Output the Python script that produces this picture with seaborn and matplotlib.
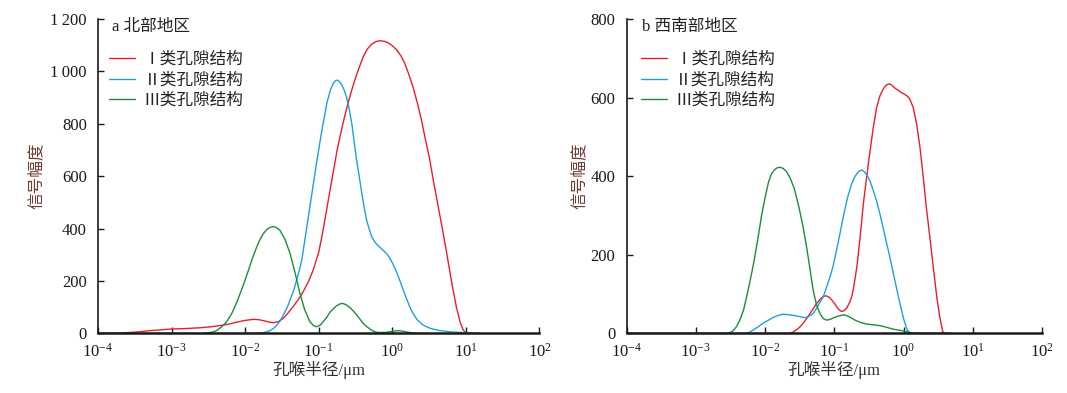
import numpy as np
import pandas as pd
import matplotlib
matplotlib.use("Agg")
import matplotlib.pyplot as plt
import seaborn as sns
from matplotlib.ticker import FixedLocator, FuncFormatter, NullLocator

# ---------------- data (log10 of pore-throat radius in µm, signal amplitude) ----------------
series_names = ["Ⅰ类孔隙结构", "Ⅱ类孔隙结构", "Ⅲ类孔隙结构"]
series_colors = ["#E5202B", "#1F9FE3", "#1B8C3C"]

# panel a: 北部地区
a_I_logr = [-4.0, -3.7, -3.5, -3.29, -3.0, -2.8, -2.61, -2.45, -2.30, -2.2, -2.12, -2.0, -1.89, -1.82,
            -1.75, -1.68, -1.62, -1.55, -1.48, -1.42, -1.35, -1.28, -1.21, -1.14, -1.075, -1.0, -0.95,
            -0.85, -0.75, -0.68, -0.62, -0.55, -0.5, -0.45, -0.395, -0.34, -0.28, -0.22, -0.17, -0.11,
            -0.05, 0.0, 0.06, 0.12, 0.17, 0.22, 0.28, 0.34, 0.40, 0.45, 0.51, 0.56, 0.62, 0.68, 0.74,
            0.80, 0.87, 0.92, 0.96, 1.0, 1.05, 1.15]
a_I_amp = [0, 2, 5, 11, 17, 19, 22, 26, 32, 37, 43, 50, 54, 53,
           49, 44, 41, 45, 58, 77, 102, 128, 160, 198, 242, 310, 380,
           540, 700, 790, 860, 930, 975, 1015, 1056, 1085, 1104, 1114, 1117, 1115,
           1108, 1098, 1082, 1058, 1030, 992, 942, 880, 810, 740, 662, 580, 490, 400, 306,
           205, 102, 45, 15, 2, 0, 0]

a_II_logr = [-4.0, -2.0, -1.85, -1.75, -1.66, -1.61, -1.57, -1.52, -1.48, -1.43, -1.39, -1.34, -1.30,
             -1.26, -1.23, -1.165, -1.10, -1.03, -0.96, -0.89, -0.84, -0.80, -0.77, -0.75, -0.72,
             -0.69, -0.655, -0.62, -0.585, -0.55, -0.52, -0.485, -0.45, -0.42, -0.385, -0.35, -0.31,
             -0.28, -0.245, -0.21, -0.15, -0.08, -0.04, 0.0, 0.05, 0.10, 0.15, 0.2, 0.24, 0.28, 0.34,
             0.42, 0.52, 0.65, 0.8, 1.0, 1.1, 1.2]
a_II_amp = [0, 0, 1, 3, 11, 20, 32, 50, 71, 98, 128, 165, 204,
            245, 280, 400, 520, 650, 770, 878, 930, 955, 965, 967, 962,
            950, 930, 900, 855, 800, 735, 662, 600, 545, 485, 433, 395,
            370, 352, 340, 324, 306, 290, 270, 240, 204, 165, 128, 100, 77, 52,
            32, 19, 11, 6, 3, 1, 0]

a_III_logr = [-4.0, -2.6, -2.52, -2.45, -2.39, -2.32, -2.25, -2.18, -2.12, -2.06, -2.0, -1.95, -1.91,
              -1.85, -1.80, -1.75, -1.70, -1.66, -1.62, -1.58, -1.53, -1.46, -1.39, -1.32, -1.255,
              -1.19, -1.12, -1.07, -1.03, -0.98, -0.94, -0.89, -0.85, -0.80, -0.76, -0.72, -0.675,
              -0.63, -0.58, -0.53, -0.485, -0.44, -0.40, -0.35, -0.30, -0.25, -0.20, -0.1, 0.0, 0.08,
              0.16, 0.25, 0.35, 0.5]
a_III_amp = [0, 0, 2, 5, 11, 25, 45, 77, 115, 158, 204, 245, 280,
             325, 358, 382, 398, 405, 408, 405, 395, 360, 306, 230, 153,
             90, 45, 30, 26, 32, 45, 62, 80, 95, 105, 112, 115,
             110, 100, 86, 71, 55, 40, 27, 16, 8, 4, 4, 8, 11,
             8, 3, 0, 0]

# panel b: 西南部地区
b_I_logr = [-4.0, -1.67, -1.60, -1.55, -1.50, -1.45, -1.40, -1.35, -1.30, -1.256, -1.20, -1.16, -1.12,
            -1.07, -1.016, -0.96, -0.93, -0.895, -0.86, -0.82, -0.775, -0.745, -0.72, -0.695, -0.67,
            -0.63, -0.58, -0.535, -0.49, -0.44, -0.39, -0.34, -0.29, -0.25, -0.21, -0.17, -0.13,
            -0.10, -0.04, 0.02, 0.06, 0.09, 0.14, 0.19, 0.24, 0.285, 0.33, 0.38, 0.43, 0.48, 0.52,
            0.565, 0.6, 0.7]
b_I_amp = [0, 0, 3, 9, 16, 26, 38, 51, 64, 76, 88, 94, 96,
           92, 81, 67, 60, 56, 58, 65, 80, 96, 118, 145, 175,
           240, 330, 395, 456, 520, 574, 605, 623, 632, 635, 632, 625,
           621, 614, 608, 603, 596, 575, 532, 470, 397, 320, 245, 168, 93, 45,
           5, 0, 0]

b_II_logr = [-4.0, -2.29, -2.23, -2.17, -2.10, -2.03, -1.95, -1.88, -1.81, -1.74, -1.67, -1.59, -1.50,
             -1.425, -1.36, -1.305, -1.256, -1.21, -1.16, -1.111, -1.06, -1.016, -0.94, -0.871, -0.81,
             -0.75, -0.70, -0.65, -0.605, -0.56, -0.52, -0.486, -0.44, -0.39, -0.341, -0.29, -0.245,
             -0.197, -0.15, -0.10, -0.052, 0.0, 0.04, 0.068, 0.1, 0.3, 0.6, 0.7]
b_II_amp = [0, 0, 3, 9, 17, 26, 34, 41, 46, 49, 48, 46, 43,
            40, 44, 51, 64, 78, 93, 118, 145, 172, 235, 296, 345,
            380, 400, 412, 416, 410, 400, 389, 365, 338, 304, 265, 230,
            194, 155, 115, 76, 38, 15, 5, 2, 1, 1, 0]

b_III_logr = [-4.0, -2.56, -2.50, -2.46, -2.41, -2.364, -2.31, -2.267, -2.23, -2.195, -2.157, -2.10,
              -2.05, -2.00, -1.95, -1.91, -1.87, -1.83, -1.786, -1.74, -1.69, -1.642, -1.58, -1.522,
              -1.46, -1.40, -1.35, -1.305, -1.26, -1.208, -1.16, -1.111, -1.06, -1.01, -0.967, -0.91,
              -0.847, -0.79, -0.74, -0.70, -0.62, -0.533, -0.44, -0.341, -0.25, -0.149, -0.05, 0.045,
              0.1, 0.15]
b_III_amp = [0, 0, 3, 7, 18, 34, 60, 93, 122, 152, 186, 245,
             300, 345, 385, 405, 415, 421, 423, 420, 412, 397, 370, 330,
             280, 220, 163, 110, 75, 51, 38, 34, 36, 40, 43, 46,
             47, 43, 38, 34, 28, 24, 22, 20, 16, 11, 8, 5,
             2, 0]

x_ticks = [1e-4, 1e-3, 1e-2, 1e-1, 1e0, 1e1, 1e2]
a_yticks = [0, 200, 400, 600, 800, 1000, 1200]
b_yticks = [0, 200, 400, 600, 800]
panel_titles = ["a 北部地区", "b 西南部地区"]
xlabel_text = "孔喉半径/μm"
ylabel_text = "信号幅度"

# ---------------- style ----------------
sns.set_theme(style="white")
plt.rcParams["font.family"] = ["Liberation Serif", "Noto Sans CJK SC", "DejaVu Sans"]
plt.rcParams["mathtext.fontset"] = "custom"
plt.rcParams["mathtext.rm"] = "Liberation Serif"
plt.rcParams["mathtext.it"] = "Liberation Serif:italic"
plt.rcParams["axes.unicode_minus"] = True
plt.rcParams["lines.solid_joinstyle"] = "round"

fig = plt.figure(figsize=(10.67, 3.93), dpi=100)
ax_a = fig.add_axes([0.0918, 0.1514, 0.4138, 0.8003])
ax_b = fig.add_axes([0.5872, 0.1514, 0.3894, 0.8003])

panels = [
    (ax_a, [(a_I_logr, a_I_amp), (a_II_logr, a_II_amp), (a_III_logr, a_III_amp)], a_yticks,
     -0.120, 0.031, 0.026),
    (ax_b, [(b_I_logr, b_I_amp), (b_II_logr, b_II_amp), (b_III_logr, b_III_amp)], b_yticks,
     -0.0927, 0.0366, 0.035),
]

def ytick_fmt(v, pos):
    v = int(round(v))
    if v >= 1000:
        return f"{v // 1000}\u2009{v % 1000:03d}"
    return str(v)

for idx, (ax, data, yticks, ylab_x, title_x, leg_x) in enumerate(panels):
    for (logr, amp), name, col in zip(data, series_names, series_colors):
        df = pd.DataFrame({"r": 10.0 ** np.asarray(logr), "amp": amp})
        sns.lineplot(data=df, x="r", y="amp", ax=ax, color=col, linewidth=1.0,
                     label=name, sort=False, estimator=None)
    ax.set_xscale("log")
    ax.set_xlim(1e-4, 1e2)
    ax.set_ylim(0, yticks[-1])
    ax.xaxis.set_major_locator(FixedLocator(x_ticks))
    ax.xaxis.set_minor_locator(NullLocator())
    ax.yaxis.set_major_locator(FixedLocator(yticks))
    ax.yaxis.set_major_formatter(FuncFormatter(ytick_fmt))
    ax.set_xticklabels([r"$\mathregular{10^{%d}}$" % int(np.log10(t)) for t in x_ticks])
    for s in ["top", "right"]:
        ax.spines[s].set_visible(False)
    ax.spines["bottom"].set_linewidth(1.8)
    ax.spines["left"].set_linewidth(1.2)
    ax.spines["bottom"].set_color("#1a1a1a")
    ax.spines["left"].set_color("#1a1a1a")
    ax.tick_params(axis="x", direction="in", length=4, width=1.0, pad=6.5,
                   labelsize=12, colors="#1a1a1a", bottom=True)
    ax.tick_params(axis="y", direction="in", length=4, width=1.0, pad=8,
                   labelsize=12, colors="#1a1a1a", left=True)
    ax.set_xlabel(xlabel_text, fontsize=12, color="#333333")
    ax.set_ylabel(ylabel_text, fontsize=12, color="#6e3b33")
    ax.yaxis.set_label_coords(ylab_x, 0.5)
    ax.xaxis.set_label_coords(0.5, -0.088)
    ax.grid(False)
    ax.text(title_x, 0.9755, panel_titles[idx], transform=ax.transAxes,
            fontsize=12, va="center", ha="left", color="#222222")
    leg = ax.legend(loc="upper left", bbox_to_anchor=(leg_x, 0.895),
                    frameon=False, fontsize=12, handlelength=1.55, handletextpad=0.5,
                    labelspacing=0.27, borderaxespad=0.0, borderpad=0.0)
    for t in leg.get_texts():
        t.set_color("#222222")

fig.savefig("out.png", dpi=100)
